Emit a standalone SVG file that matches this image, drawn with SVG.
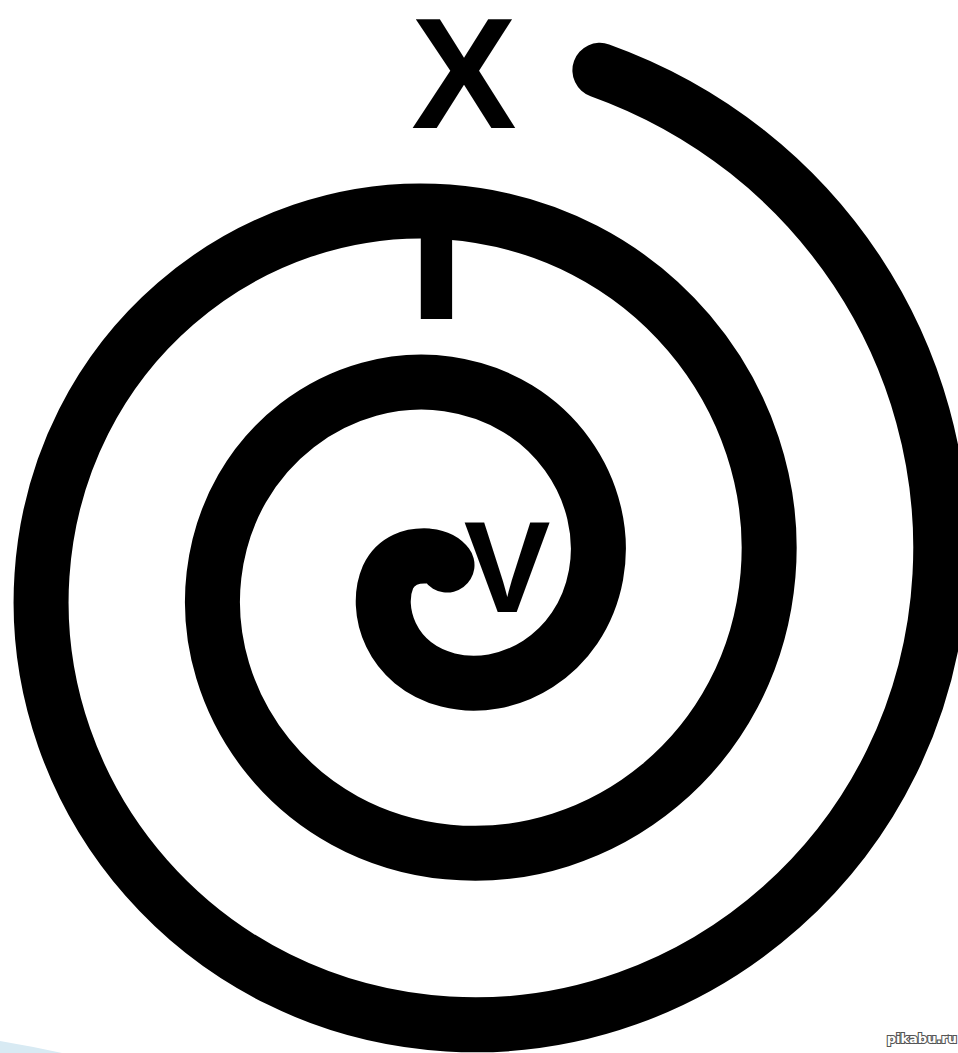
<svg xmlns="http://www.w3.org/2000/svg" width="958" height="1053" viewBox="0 0 958 1053">
<style>
.sp{fill:none;stroke:#000;stroke-width:55;stroke-linecap:round;stroke-linejoin:round}
.lt{font-family:"Liberation Sans",Arial,sans-serif;font-weight:bold;fill:#000}
.wm{font-family:"DejaVu Sans",sans-serif;font-weight:bold;font-size:13px;fill:#fff;stroke:#555;stroke-width:2.2;paint-order:stroke}
</style>
<rect width="958" height="1053" fill="#fff"/>
<path d="M0,1041 Q30,1046 62,1053 L0,1053 Z" fill="#d8eaf3"/>
<g id="connectors">
<path id="spiral" class="sp" d="M599.9,70.3 C819.2,148.9 952.09,357.8 940,575 C924.88,846.73 695.98,1039.12 448,1024 C200.02,1008.88 26.88,799.23 42,575 C57.12,350.77 247.52,196.88 448,212 C648.48,227.12 783.12,398.26 768,575 C752.88,751.74 600.99,867.12 448,852 C295.01,836.88 198.88,704.24 214,575 C229.12,445.76 342.51,368.88 448,384 C553.49,399.12 611.12,493.26 596,575 C580.88,656.74 505.99,695.12 448,680 C390.01,664.88 374,609.24 388,577 C396,560 412,555 428,556 C438,557 444,561 447,565"/>
</g>
<g id="node-X"><text class="lt" x="464" y="128" font-size="158" text-anchor="middle">X</text></g>
<g id="node-I"><text class="lt" x="0" y="0" font-size="150" text-anchor="middle" transform="translate(436.5,319) scale(1.45,1)">I</text></g>
<g id="node-V"><text class="lt" x="507" y="612" font-size="130" text-anchor="middle">V</text></g>
<g id="watermark"><text class="wm" x="957" y="1043" text-anchor="end">pikabu.ru</text></g>
</svg>
